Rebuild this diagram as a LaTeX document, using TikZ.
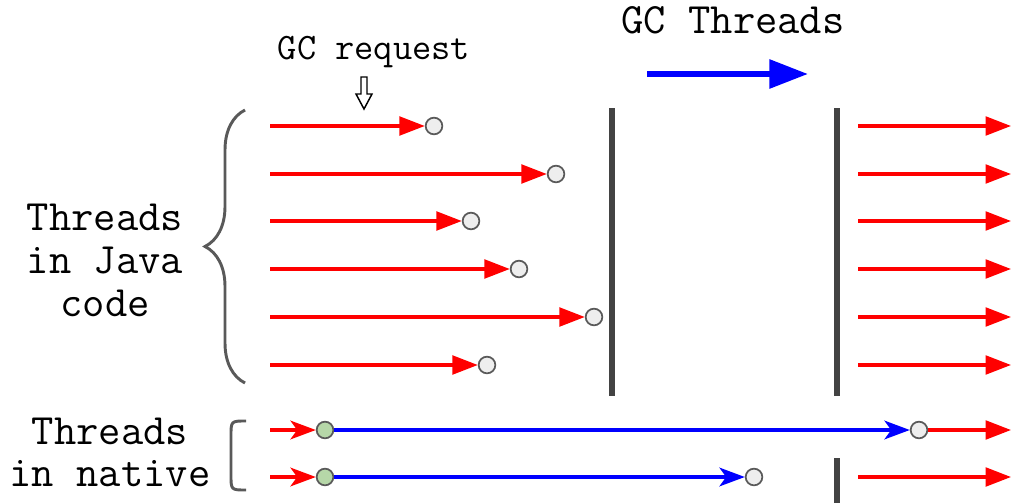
\documentclass[tikz,border=0pt]{standalone}
\usetikzlibrary{arrows.meta,decorations.pathreplacing}
\definecolor{gcblue}{HTML}{0000FF}
\definecolor{barcol}{HTML}{434343}
\definecolor{dotfill}{HTML}{EEEEEE}
\definecolor{dotgreen}{HTML}{B6D7A8}
\definecolor{edgecol}{HTML}{595959}
\tikzset{
  dot/.style={circle, draw=edgecol, line width=1.3pt, fill=dotfill,
    minimum size=12.5pt, inner sep=0pt},
  gdot/.style={dot, fill=dotgreen},
  run/.style={draw=red, line width=2.3pt, -{Triangle[length=19pt,width=14pt]}},
  entry/.style={draw=red, line width=2.3pt, -{Stealth[length=19pt,width=14pt,inset=5pt]}},
  native/.style={draw=gcblue, line width=2.3pt, -{Stealth[length=19pt,width=14pt,inset=5pt]}},
  stopbar/.style={draw=barcol, line width=4.5pt},
  bracecol/.style={draw=edgecol, line width=2.2pt},
  biglabel/.style={font=\ttfamily\fontsize{32.5}{33}\selectfont, inner sep=0pt},
  smalllabel/.style={font=\ttfamily\fontsize{28}{30}\selectfont, inner sep=0pt},
}
\begin{document}
\begin{tikzpicture}[x=0.75pt,y=-0.75pt]
\useasboundingbox (0,0) rectangle (1013,503);

% header: GC threads run while the others are stopped
\node[biglabel, anchor=base] (gct) at (733,34) {GC Threads};
\coordinate (gca) at (647,74);
\coordinate (gcb) at (808,74);
\draw[draw=gcblue, line width=4.5pt, -{Triangle[length=29pt,width=21pt]}] (gca) -- (gcb);

% GC request marker
\node[smalllabel, anchor=base] (req) at (374,60) {GC request};
\draw[black, line width=1.1pt, fill=white, line join=miter]
  (361,77) -- (367,77) -- (367,94) -- (372,94) -- (364,109) -- (356,94) -- (361,94) -- cycle;

% stop lines (safepoint)
\coordinate (s1t) at (612,108); \coordinate (s1b) at (612,396);
\coordinate (s2t) at (837,108); \coordinate (s2b) at (837,396);
\draw[stopbar] (s1t) -- (s1b);
\draw[stopbar] (s2t) -- (s2b);

% threads in Java code
\foreach \y/\e [count=\i] in {126/434,174/556,221/471,269/519,317/594,365/487} {
  \coordinate (js\i) at (270,\y);
  \node[dot] (jd\i) at (\e,\y) {};
  \draw[run] (js\i) -- (jd\i);
  \coordinate (rs\i) at (858,\y);
  \coordinate (re\i) at (1011,\y);
  \draw[run] (rs\i) -- (re\i);
}

% threads in native code
\coordinate (n1s) at (270,430);
\node[gdot] (n1g) at (325,430) {};
\node[dot] (n1d) at (919,430) {};
\coordinate (n1e) at (1011,430);
\draw[entry] (n1s) -- (n1g);
\draw[native] (n1g) -- (n1d);
\draw[run] (n1d) -- (n1e);

\coordinate (n2s) at (270,477);
\node[gdot] (n2g) at (325,477) {};
\node[dot] (n2d) at (754,477) {};
\draw[entry] (n2s) -- (n2g);
\draw[native] (n2g) -- (n2d);
\coordinate (s3t) at (837,458); \coordinate (s3b) at (837,503);
\draw[stopbar] (s3t) -- (s3b);
\coordinate (n2r) at (858,477);
\coordinate (n2e) at (1011,477);
\draw[run] (n2r) -- (n2e);

% group labels and braces
\coordinate (jb) at (245,383);
\coordinate (jt) at (245,110);
\draw[bracecol, decorate, decoration={brace, amplitude=30pt, aspect=0.5}] (jb) -- (jt);
\node[biglabel, align=center, anchor=base] (javalbl) at (105,316)
  {Threads\\[-0.5pt]in Java\\[-1pt]code};

\draw[bracecol] (246,421) .. controls (231,421) .. (231,436) -- (231,475)
  .. controls (231,490) .. (246,490);
\node[biglabel, align=center, anchor=base] (natlbl) at (110,486)
  {Threads\\[-2pt]in native};
\end{tikzpicture}
\end{document}
